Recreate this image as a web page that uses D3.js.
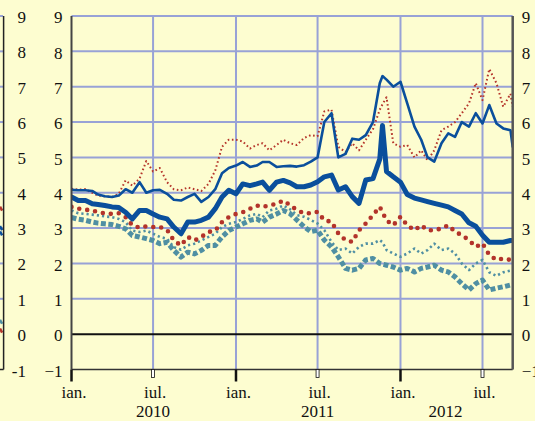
<!DOCTYPE html>
<html><head><meta charset="utf-8">
<script src="https://cdn.jsdelivr.net/npm/d3@7"></script>
<style>html,body{margin:0;padding:0;background:#fdfdd0;}svg{display:block}
text{font-family:"Liberation Serif","Times New Roman",Times,serif;}</style>
</head><body>
<svg id="c" width="535" height="421"></svg>
<script>
// ---------- DATA ----------
const dates = [
"2010-01-01","2010-01-16","2010-02-01","2010-02-16","2010-03-01","2010-03-16","2010-04-01","2010-04-16","2010-05-01","2010-05-16","2010-06-01","2010-06-16",
"2010-07-01","2010-07-16","2010-08-01","2010-08-16","2010-09-01","2010-09-16","2010-10-01","2010-10-16","2010-11-01","2010-11-16","2010-12-01","2010-12-16",
"2011-01-01","2011-01-16","2011-02-01","2011-02-16","2011-03-01","2011-03-16","2011-04-01","2011-04-16","2011-05-01","2011-05-16","2011-06-01","2011-06-16",
"2011-07-01","2011-07-16","2011-08-01","2011-08-16","2011-09-01","2011-09-16","2011-10-01","2011-10-16","2011-11-01","2011-11-16","2011-11-22","2011-12-01","2011-12-16",
"2012-01-01","2012-01-16","2012-02-01","2012-02-16","2012-03-01","2012-03-16","2012-04-01","2012-04-16","2012-05-01","2012-05-16","2012-06-01","2012-06-16",
"2012-07-01","2012-07-16","2012-08-01","2012-08-16","2012-09-01","2012-09-06"];

const redDotted = [4.11,4.09,4.10,4.00,3.92,3.90,3.88,3.97,4.35,4.20,4.40,4.90,4.60,4.70,4.30,4.10,4.07,4.15,4.10,4.05,4.25,4.63,5.30,5.50,
  5.50,5.45,5.25,5.35,5.40,5.20,5.35,5.50,5.40,5.35,5.55,5.63,5.60,6.30,6.35,5.30,5.15,5.40,5.20,5.50,5.80,6.35,6.50,6.70,5.40,
  5.30,5.35,5.00,5.20,4.92,5.20,5.77,5.87,6.00,6.25,6.53,7.10,6.62,7.50,7.10,6.43,6.80,6.43];
const blueThin = [4.08,4.07,4.07,4.05,3.95,3.90,3.88,3.92,4.10,4.00,4.30,4.00,4.07,4.08,3.97,3.80,3.78,3.88,3.97,3.74,3.88,4.10,4.55,4.70,
  4.77,4.87,4.73,4.77,4.87,4.87,4.73,4.75,4.76,4.74,4.78,4.88,5.00,6.00,6.25,5.00,5.10,5.53,5.50,5.63,6.00,7.10,7.30,7.20,7.00,
  7.14,6.53,5.87,5.50,5.00,4.88,5.40,5.68,5.58,6.00,5.87,6.25,5.96,6.48,5.96,5.82,5.77,5.30];
const blueThick = [3.88,3.78,3.78,3.69,3.67,3.64,3.60,3.58,3.45,3.26,3.50,3.50,3.40,3.31,3.26,3.03,2.84,3.17,3.17,3.22,3.31,3.55,3.88,4.07,
  3.97,4.25,4.20,4.25,4.30,4.07,4.30,4.35,4.28,4.17,4.17,4.22,4.31,4.45,4.50,4.08,4.17,3.89,3.70,4.36,4.40,4.95,5.90,4.60,4.45,
  4.30,3.95,3.85,3.80,3.75,3.70,3.65,3.60,3.50,3.40,3.15,3.05,2.80,2.60,2.60,2.60,2.65,2.65];
const redDots = [3.60,3.55,3.52,3.50,3.45,3.42,3.40,3.42,3.31,3.08,3.01,3.05,3.03,3.03,2.95,2.65,2.51,2.75,2.65,2.75,2.89,2.93,3.17,3.31,
  3.40,3.45,3.55,3.64,3.60,3.64,3.69,3.78,3.65,3.51,3.42,3.42,3.46,3.22,3.18,2.85,2.66,2.61,2.94,3.13,3.37,3.60,3.45,3.22,3.08,
  3.32,3.08,2.94,3.08,2.94,2.94,2.99,3.08,2.90,2.80,2.66,2.47,2.57,2.24,2.10,2.14,2.10,2.15];
const tealDots = [3.50,3.42,3.40,3.38,3.36,3.33,3.31,3.26,3.17,2.93,2.89,2.93,2.84,2.75,2.70,2.46,2.39,2.51,2.56,2.65,2.75,2.84,3.03,3.12,
  3.17,3.26,3.36,3.40,3.31,3.50,3.55,3.64,3.53,3.37,3.32,3.23,3.13,2.94,2.61,2.38,2.42,2.28,2.47,2.56,2.56,2.66,2.60,2.38,2.28,
  2.19,2.28,2.42,2.28,2.38,2.56,2.38,2.42,2.28,2.00,1.81,2.00,2.10,1.75,1.65,1.75,1.80,1.80];
const tealDash = [3.30,3.25,3.22,3.17,3.14,3.12,3.10,3.05,2.98,2.79,2.75,2.70,2.65,2.56,2.60,2.37,2.18,2.32,2.27,2.37,2.51,2.51,2.75,2.93,
  3.03,3.12,3.22,3.26,3.17,3.31,3.40,3.50,3.41,3.23,3.04,2.90,2.94,2.66,2.47,2.19,1.86,1.81,1.86,2.10,2.14,2.00,1.98,1.95,1.90,
  1.81,1.86,1.76,1.86,1.90,1.95,1.81,1.76,1.62,1.43,1.25,1.43,1.53,1.25,1.30,1.34,1.39,1.40];

const yTicks = [-1,0,1,2,3,4,5,6,7,8,9];
const janTicks = ["2010-01-01","2011-01-01","2012-01-01"];
const julTicks = ["2010-07-01","2011-07-01","2012-07-01"];
const janLabel = "ian.";
const julLabel = "iul.";
const yearLabels = [{d:"2010-07-01",t:"2010"},{d:"2011-07-01",t:"2011"},{d:"2012-04-10",t:"2012"}];
// tail of the neighbouring (cut-off) panel on the left
const leftTailValues = [3.55, 3.0, 2.85, 0.35, 0.1];
const leftTailColors = ["#b5352b","#0a4f9c","#0a4f9c","#4f8fa3","#b5352b"];

// ---------- DRAW ----------
const parse = d3.timeParse("%Y-%m-%d");
const D = dates.map(parse);
const W = 535, H = 421;
const svg = d3.select("#c");
svg.append("rect").attr("width",W).attr("height",H).attr("fill","#fdfdd0");

const x = d3.scaleTime().domain([parse("2010-01-01"), parse("2012-09-06")]).range([71.5, 512.7]);
const y = d3.scaleLinear().domain([-1, 9]).range([369.5, 16]);
const gridCol = "#98a2d6";
const font = '"Liberation Serif","Times New Roman",Times,serif';
const styleText = sel => sel.style("font-family",font).style("font-size","17px").attr("fill","#111");

// left cut-off panel
const xl = d3.scaleLinear().domain([0,1]).range([0,3]);
svg.append("g").selectAll("line").data(yTicks.filter(v=>v>0)).join("line")
  .attr("x1",xl(0)).attr("x2",xl(1)).attr("y1",d=>y(d)).attr("y2",d=>y(d))
  .attr("stroke",gridCol).attr("stroke-width",2);
svg.append("g").selectAll("line").data(leftTailValues).join("line")
  .attr("x1",xl(0)).attr("x2",xl(0.7)).attr("y1",d=>y(d)-2).attr("y2",d=>y(d)+2)
  .attr("stroke",(d,i)=>leftTailColors[i]).attr("stroke-width",2.5);
svg.append("line").attr("x1",0).attr("x2",xl(1.2)).attr("y1",y(-1)).attr("y2",y(-1)).attr("stroke","#222").attr("stroke-width",1.5);
svg.append("line").attr("x1",xl(1.2)).attr("x2",xl(1.2)).attr("y1",y(9)).attr("y2",y(-1)).attr("stroke","#222").attr("stroke-width",1.5);
svg.append("g").selectAll("text").data(yTicks).join("text")
  .attr("x",26).attr("y",d=>y(d)+7).attr("text-anchor","end")
  .call(styleText).text(d=>d);

// grid
svg.append("g").selectAll("line").data(yTicks.filter(v=>v>0)).join("line")
  .attr("x1",x.range()[0]).attr("x2",x.range()[1]).attr("y1",d=>y(d)).attr("y2",d=>y(d))
  .attr("stroke",gridCol).attr("stroke-width",2);
const vGrid = janTicks.slice(1).concat(julTicks).map(parse);
svg.append("g").selectAll("line").data(vGrid).join("line")
  .attr("x1",d=>x(d)).attr("x2",d=>x(d)).attr("y1",y(9)).attr("y2",y(-1))
  .attr("stroke",gridCol).attr("stroke-width",2);

// series
svg.append("clipPath").attr("id","pc").append("rect")
  .attr("x",x.range()[0]).attr("y",0).attr("width",x.range()[1]-x.range()[0]).attr("height",y(-1));
const line = vals => d3.line().x((d,i)=>x(D[i])).y(d=>y(d))(vals);
const series = [
  {v:redDotted, c:"#b5352b", w:2, dash:"1.6,2.6", cap:"butt"},
  {v:tealDash, c:"#4f8fa3", w:5, dash:"5,2.5", cap:"butt"},
  {v:tealDots, c:"#4f8fa3", w:2.6, dash:"2.2,3", cap:"butt"},
  {v:redDots, c:"#b3332a", w:4.6, dash:"0,8", cap:"round"},
  {v:blueThin, c:"#0a4f9c", w:2.6, dash:null, cap:"round"},
  {v:blueThick, c:"#0a4f9c", w:5, dash:null, cap:"round"}
];
const gS = svg.append("g").attr("clip-path","url(#pc)");
series.forEach(s=>{
  gS.append("path").attr("d",line(s.v)).attr("fill","none").attr("stroke",s.c)
    .attr("stroke-width",s.w).attr("stroke-dasharray",s.dash).attr("stroke-linecap",s.cap)
    .attr("stroke-linejoin","round");
});

// axes lines
svg.append("line").attr("x1",x.range()[0]).attr("x2",x.range()[1]+1).attr("y1",y(0)).attr("y2",y(0)).attr("stroke","#111").attr("stroke-width",2);
svg.append("line").attr("x1",x.range()[0]).attr("x2",x.range()[1]).attr("y1",y(-1)).attr("y2",y(-1)).attr("stroke","#333").attr("stroke-width",1.5);
svg.append("line").attr("x1",x.range()[0]).attr("x2",x.range()[0]).attr("y1",y(9)).attr("y2",y(-1)).attr("stroke","#444").attr("stroke-width",2);
svg.append("line").attr("x1",x.range()[1]).attr("x2",x.range()[1]).attr("y1",y(9)).attr("y2",y(-1)).attr("stroke","#555").attr("stroke-width",2.5);

// y labels
const yAxisL = d3.axisLeft(y).tickValues(yTicks).tickSize(0).tickPadding(9).tickFormat(d3.format("d"));
const gL = svg.append("g").attr("transform",`translate(${x.range()[0]},0)`).call(yAxisL);
gL.attr("font-family",null).attr("font-size",null);
gL.select(".domain").remove();
gL.selectAll("text").call(styleText).attr("dy","0.4em");
const yAxisR = d3.axisRight(y).tickValues(yTicks).tickSize(0).tickPadding(9).tickFormat(d3.format("d"));
const gR = svg.append("g").attr("transform",`translate(${x.range()[1]},0)`).call(yAxisR);
gR.attr("font-family",null).attr("font-size",null);
gR.select(".domain").remove();
gR.selectAll("text").call(styleText).attr("dy","0.4em");

// x ticks
svg.append("g").selectAll("line").data(janTicks.map(parse)).join("line")
  .attr("x1",d=>x(d)).attr("x2",d=>x(d)).attr("y1",y(-1)).attr("y2",y(-1)+12)
  .attr("stroke","#111").attr("stroke-width",2.5);
svg.append("g").selectAll("rect").data(julTicks.map(parse)).join("rect")
  .attr("x",d=>x(d)-1.5).attr("y",y(-1)).attr("width",3).attr("height",8)
  .attr("fill","#fff").attr("stroke","#111").attr("stroke-width",0.8);
// x labels
svg.append("g").selectAll("text").data(janTicks.map(parse)).join("text")
  .attr("x",d=>x(d)+2.5).attr("y",398).attr("text-anchor","middle")
  .call(styleText).text(janLabel);
svg.append("g").selectAll("text").data(julTicks.map(parse)).join("text")
  .attr("x",d=>x(d)+2).attr("y",398).attr("text-anchor","middle")
  .call(styleText).text(julLabel);
svg.append("g").selectAll("text").data(yearLabels).join("text")
  .attr("x",d=>x(parse(d.d))).attr("y",417).attr("text-anchor","middle")
  .call(styleText).text(d=>d.t);
</script>
</body></html>
